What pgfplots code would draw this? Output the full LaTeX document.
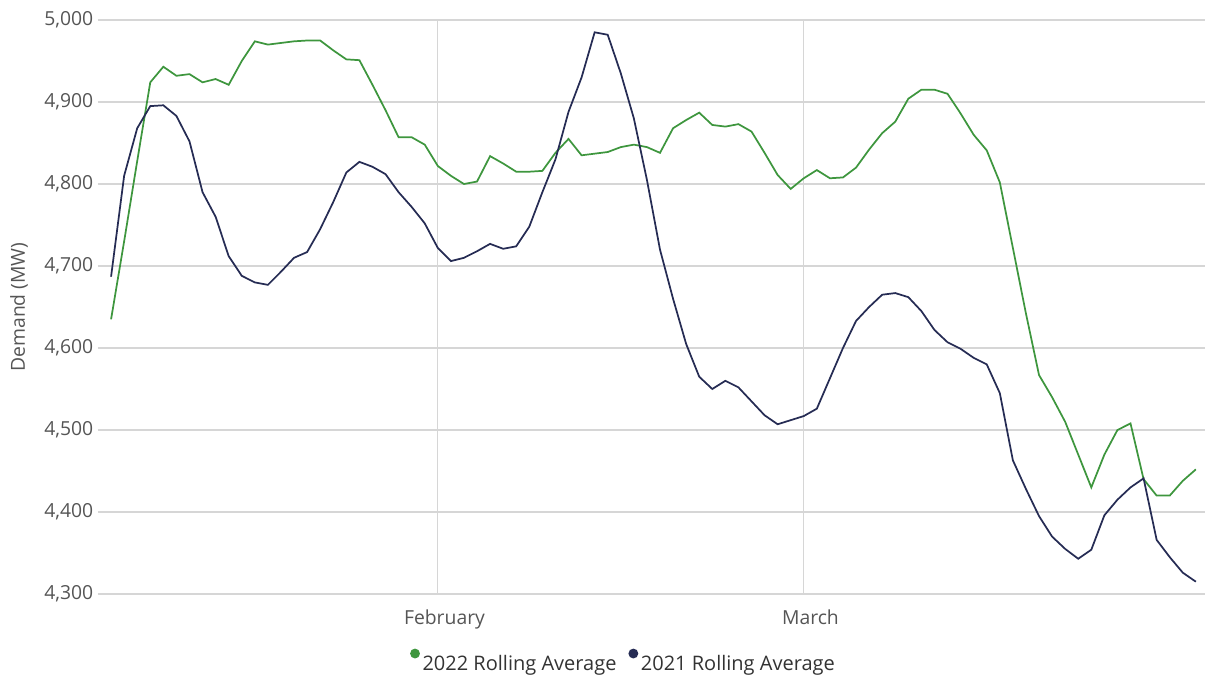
\documentclass[border=0pt]{standalone}
\usepackage{fontspec}
\setmainfont{Open Sans}
\usepackage{pgfplots}
\pgfplotsset{compat=1.18}
\usepackage{pgfplotstable}

\definecolor{green22}{RGB}{62,150,62}
\definecolor{navy21}{RGB}{38,44,84}
\definecolor{gridgray}{RGB}{214,214,214}
\definecolor{ticktext}{RGB}{85,85,85}

% day index: 0 = 1 February, 28 = 1 March
\pgfplotstableread{
day mw
-25 4635
-24 4730
-23 4828
-22 4924
-21 4943
-20 4932
-19 4934
-18 4924
-17 4928
-16 4921
-15 4950
-14 4974
-13 4970
-12 4972
-11 4974
-10 4975
-9 4975
-8 4963
-7 4952
-6 4951
-5 4921
-4 4890
-3 4857
-2 4857
-1 4848
0 4822
1 4810
2 4800
3 4803
4 4834
5 4825
6 4815
7 4815
8 4816
9 4838
10 4855
11 4835
12 4837
13 4839
14 4845
15 4848
16 4845
17 4838
18 4868
19 4878
20 4887
21 4872
22 4870
23 4873
24 4864
25 4838
26 4811
27 4794
28 4807
29 4817
30 4807
31 4808
32 4820
33 4842
34 4862
35 4876
36 4904
37 4915
38 4915
39 4910
40 4886
41 4860
42 4841
43 4802
44 4722
45 4642
46 4567
47 4540
48 4510
49 4470
50 4430
51 4470
52 4500
53 4508
54 4440
55 4420
56 4420
57 4438
58 4452
}\avgtwentytwo

\pgfplotstableread{
day mw
-25 4687
-24 4810
-23 4868
-22 4895
-21 4896
-20 4883
-19 4852
-18 4790
-17 4760
-16 4712
-15 4688
-14 4680
-13 4677
-12 4693
-11 4710
-10 4717
-9 4745
-8 4778
-7 4814
-6 4827
-5 4821
-4 4812
-3 4790
-2 4772
-1 4752
0 4722
1 4706
2 4710
3 4718
4 4727
5 4721
6 4724
7 4748
8 4790
9 4830
10 4888
11 4930
12 4985
13 4982
14 4935
15 4880
16 4805
17 4720
18 4660
19 4605
20 4565
21 4550
22 4560
23 4552
24 4535
25 4518
26 4507
27 4512
28 4517
29 4526
30 4563
31 4600
32 4633
33 4650
34 4665
35 4667
36 4662
37 4645
38 4622
39 4607
40 4599
41 4588
42 4580
43 4545
44 4463
45 4428
46 4395
47 4370
48 4355
49 4343
50 4354
51 4396
52 4415
53 4430
54 4441
55 4366
56 4345
57 4326
58 4315
}\avgtwentyone

\begin{document}
\begin{tikzpicture}
\useasboundingbox (-73.5pt,-60.75pt) rectangle (830.25pt,445.5pt);
\begin{axis}[
  at={(0,0)}, anchor=south west,
  width=830.25pt, height=430.5pt, scale only axis,
  xmin=-26, xmax=58.7,
  ymin=4300, ymax=5000,
  xtick={0,28}, xticklabels={February,March},
  ytick={4300,4400,...,5000},
  axis line style={draw=none},
  major tick length=0pt,
  xmajorgrids, ymajorgrids,
  grid style={gridgray, line width=0.8pt},
  /pgf/number format/assume math mode=true,
  /pgf/number format/.cd, 1000 sep={,}, fixed, /pgfplots/.cd,
  tick label style={font=\fontsize{14.5}{17}\selectfont, text=ticktext},
  xticklabel style={yshift=-8pt, xshift=5pt},
  ylabel={Demand (MW)},
  ylabel style={at={(axis description cs:-0.0714,0.5)}, anchor=center,
    font=\fontsize{14.5}{17}\selectfont, text=ticktext},
  legend columns=2,
  legend style={draw=none, fill=none,
    at={(axis description cs:0.475,-0.118)}, anchor=center,
    font=\fontsize{15}{18}\selectfont, text=black!80,
    /tikz/every even column/.append style={column sep=7pt},
    nodes={inner xsep=2pt}},
  legend image code/.code={\fill[#1] (0pt,7.5pt) circle (3pt);},
]
\addplot[color=green22, line width=1.3pt] table[x=day, y=mw] {\avgtwentytwo};
\addlegendentry{2022 Rolling Average}
\addplot[color=navy21, line width=1.3pt] table[x=day, y=mw] {\avgtwentyone};
\addlegendentry{2021 Rolling Average}
\end{axis}
\end{tikzpicture}
\end{document}
